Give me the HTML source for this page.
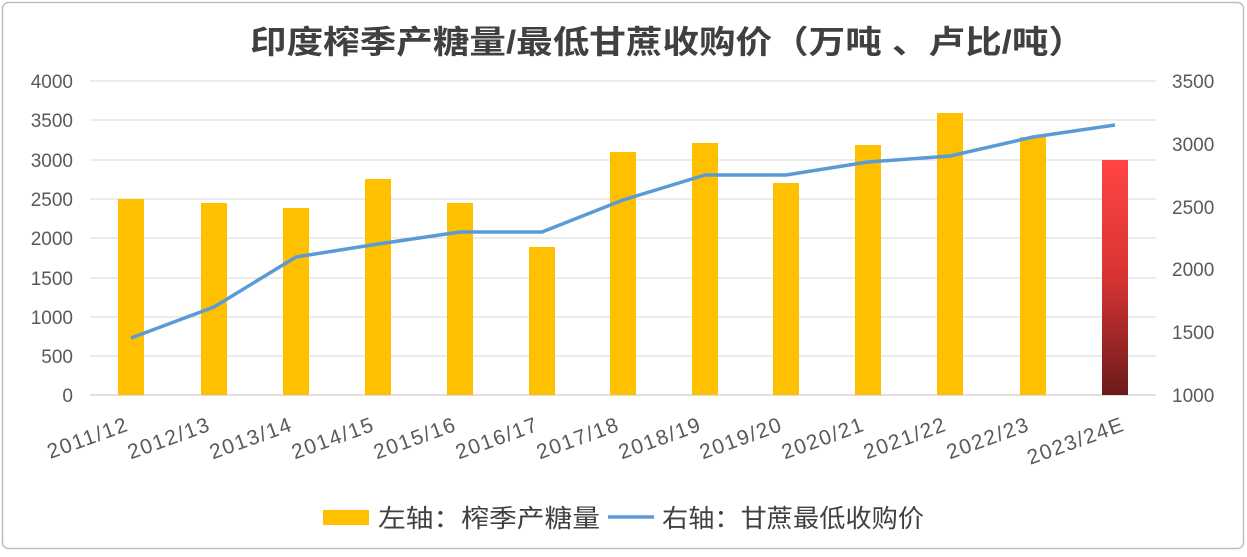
<!DOCTYPE html>
<html><head><meta charset="utf-8"><style>
body{margin:0;background:#fff;}
svg text{font-family:"Liberation Sans","Noto Sans CJK SC",sans-serif;}
</style></head><body>
<svg width="1247" height="552" viewBox="0 0 1247 552" xmlns="http://www.w3.org/2000/svg">
<defs><linearGradient id="rg" x1="0" y1="0" x2="0" y2="1"><stop offset="0" stop-color="#ff4444"/><stop offset="0.5" stop-color="#d83434"/><stop offset="1" stop-color="#6b1a1a"/></linearGradient></defs>
<rect x="2.5" y="2.5" width="1241" height="546" rx="6" fill="#fff" stroke="#bfbfbf" stroke-width="1.5"/>
<text x="250" y="53" font-size="32" font-weight="bold" fill="#404040" textLength="835" lengthAdjust="spacingAndGlyphs">印度榨季产糖量/最低甘蔗收购价（万吨 、卢比/吨）</text>
<g stroke="#d9d9d9" stroke-width="1">
<line x1="90" y1="81" x2="1156" y2="81"/><line x1="90" y1="120" x2="1156" y2="120"/><line x1="90" y1="160" x2="1156" y2="160"/><line x1="90" y1="199" x2="1156" y2="199"/><line x1="90" y1="238" x2="1156" y2="238"/><line x1="90" y1="278" x2="1156" y2="278"/><line x1="90" y1="317" x2="1156" y2="317"/><line x1="90" y1="356" x2="1156" y2="356"/>
</g>
<line x1="90" y1="395" x2="1156" y2="395" stroke="#bfbfbf"/>
<g font-size="19" fill="#595959" text-anchor="end">
<text x="73" y="88">4000</text><text x="73" y="127">3500</text><text x="73" y="167">3000</text><text x="73" y="206">2500</text><text x="73" y="245">2000</text><text x="73" y="285">1500</text><text x="73" y="324">1000</text><text x="73" y="363">500</text><text x="73" y="402">0</text>
</g>
<g font-size="19" fill="#595959" text-anchor="start">
<text x="1172" y="88">3500</text><text x="1172" y="151">3000</text><text x="1172" y="214">2500</text><text x="1172" y="276">2000</text><text x="1172" y="339">1500</text><text x="1172" y="402">1000</text>
</g>
<g fill="#ffc000">
<rect x="118" y="199" width="26" height="196"/>
<rect x="201" y="203" width="26" height="192"/>
<rect x="283" y="208" width="26" height="187"/>
<rect x="365" y="179" width="26" height="216"/>
<rect x="447" y="203" width="26" height="192"/>
<rect x="529" y="247" width="26" height="148"/>
<rect x="610" y="152" width="26" height="243"/>
<rect x="692" y="143" width="26" height="252"/>
<rect x="773" y="183" width="26" height="212"/>
<rect x="855" y="145" width="26" height="250"/>
<rect x="937" y="113" width="26" height="282"/>
<rect x="1020" y="137" width="26" height="258"/>
</g>
<rect x="1102" y="160" width="26" height="235" fill="url(#rg)"/>
<polyline fill="none" stroke="#5b9bd5" stroke-width="3.5" stroke-linejoin="round" points="131,338 214,307 296,257 378,244 460,232 542,232 623,200 705,175 786,175 868,162 950,156 1033,137 1115,125"/>
<g font-size="21" fill="#595959" text-anchor="end" letter-spacing="1.5">
<text transform="translate(130,430) rotate(-20)">2011/12</text>
<text transform="translate(212,430) rotate(-20)">2012/13</text>
<text transform="translate(294,430) rotate(-20)">2013/14</text>
<text transform="translate(376,430) rotate(-20)">2014/15</text>
<text transform="translate(458,430) rotate(-20)">2015/16</text>
<text transform="translate(540,430) rotate(-20)">2016/17</text>
<text transform="translate(621,430) rotate(-20)">2017/18</text>
<text transform="translate(703,430) rotate(-20)">2018/19</text>
<text transform="translate(784,430) rotate(-20)">2019/20</text>
<text transform="translate(866,430) rotate(-20)">2020/21</text>
<text transform="translate(948,430) rotate(-20)">2021/22</text>
<text transform="translate(1031,430) rotate(-20)">2022/23</text>
<text transform="translate(1126,430) rotate(-20)">2023/24E</text>
</g>
<rect x="323" y="510" width="46" height="15" fill="#ffc000"/>
<text x="378" y="527" font-size="25" fill="#404040" textLength="222" lengthAdjust="spacingAndGlyphs">左轴：榨季产糖量</text>
<line x1="608" y1="517" x2="654" y2="517" stroke="#5b9bd5" stroke-width="3.5"/>
<text x="662" y="527" font-size="25" fill="#404040" textLength="262" lengthAdjust="spacingAndGlyphs">右轴：甘蔗最低收购价</text>
</svg>
</body></html>
